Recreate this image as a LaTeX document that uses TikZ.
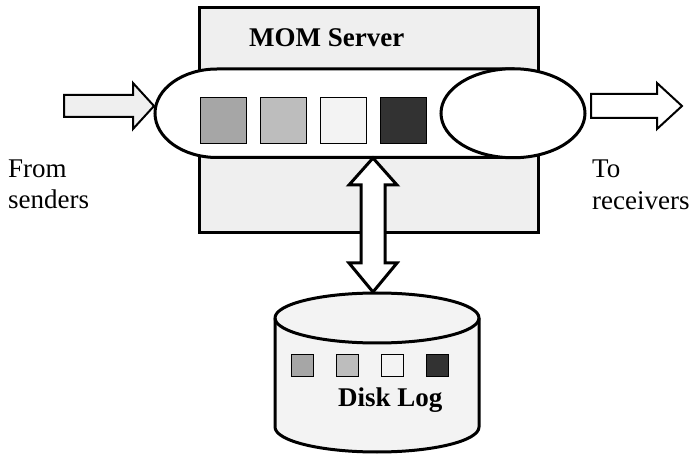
\documentclass[tikz,border=0pt]{standalone}
\usepackage{fontspec}
\setmainfont{Liberation Serif}
\begin{document}
\begin{tikzpicture}[x=1pt,y=1pt,
  thickline/.style={draw=black,line width=3pt},
  arrowline/.style={draw=black,line width=2pt,line join=miter},
  msgbox/.style={draw=black,line width=1pt},
  lbl/.style={font=\fontsize{27}{31}\selectfont,inner sep=0pt,align=left},
  blbl/.style={font=\fontsize{27}{31}\selectfont\bfseries,inner sep=0pt}]
\definecolor{srvfill}{HTML}{EFEFEF}
\definecolor{dskfill}{HTML}{F3F3F3}
\definecolor{mA}{HTML}{A6A6A6}
\definecolor{mB}{HTML}{BDBDBD}
\definecolor{mC}{HTML}{F3F3F3}
\definecolor{mD}{HTML}{323232}
\useasboundingbox (0,0) rectangle (694,453);
% server box
\path[thickline,fill=srvfill] (199,445) rectangle (538,220);
\node[blbl,anchor=base west] (srv) at (249,406) {MOM Server};
% queue pill
\path[thickline,fill=white] (513,384) -- (217,384)
  arc[start angle=90,end angle=270,x radius=62,y radius=44.25] -- (513,295.5) -- cycle;
\path[thickline,fill=white] (513,339.75) ellipse[x radius=72,y radius=44.5];
% messages in queue
\foreach \c/\xx in {mA/223,mB/283,mC/343,mD/403}{
  \path[msgbox,fill=\c] (\xx-23,332-23) rectangle (\xx+23,332+23);
}
% input arrow
\path[arrowline,fill=srvfill] (64,358) -- (133,358) -- (133,370) -- (154,347)
  -- (133,324) -- (133,336) -- (64,336) -- cycle;
% output arrow
\path[arrowline,fill=white] (591,359) -- (657,359) -- (657,370) -- (682,347)
  -- (657,324) -- (657,335) -- (591,335) -- cycle;
\node[lbl,anchor=base west] (from) at (8,275) {From};
\node[lbl,anchor=base west] (senders) at (8,244) {senders};
\node[lbl,anchor=base west] (to) at (592,275) {To};
\node[lbl,anchor=base west] (recv) at (592,243) {receivers};
% double arrow
\path[thickline,fill=white,line join=miter] (373,295) -- (397,268) -- (385,268) -- (385,190)
  -- (397,190) -- (373,161) -- (349,190) -- (361,190) -- (361,268) -- (349,268) -- cycle;
% disk cylinder
\path[thickline,fill=dskfill] (275,135) -- (275,26)
  arc[start angle=180,end angle=360,x radius=102,y radius=25] -- (479,135)
  arc[start angle=0,end angle=180,x radius=102,y radius=25] -- cycle;
\path[thickline] (275,135) arc[start angle=180,end angle=360,x radius=102,y radius=25];
\foreach \c/\xx in {mA/302,mB/347,mC/392,mD/437}{
  \path[msgbox,fill=\c] (\xx-11,87-11) rectangle (\xx+11,87+11);
}
\node[blbl,anchor=base west] (disk) at (338,46) {Disk Log};
\end{tikzpicture}
\end{document}
